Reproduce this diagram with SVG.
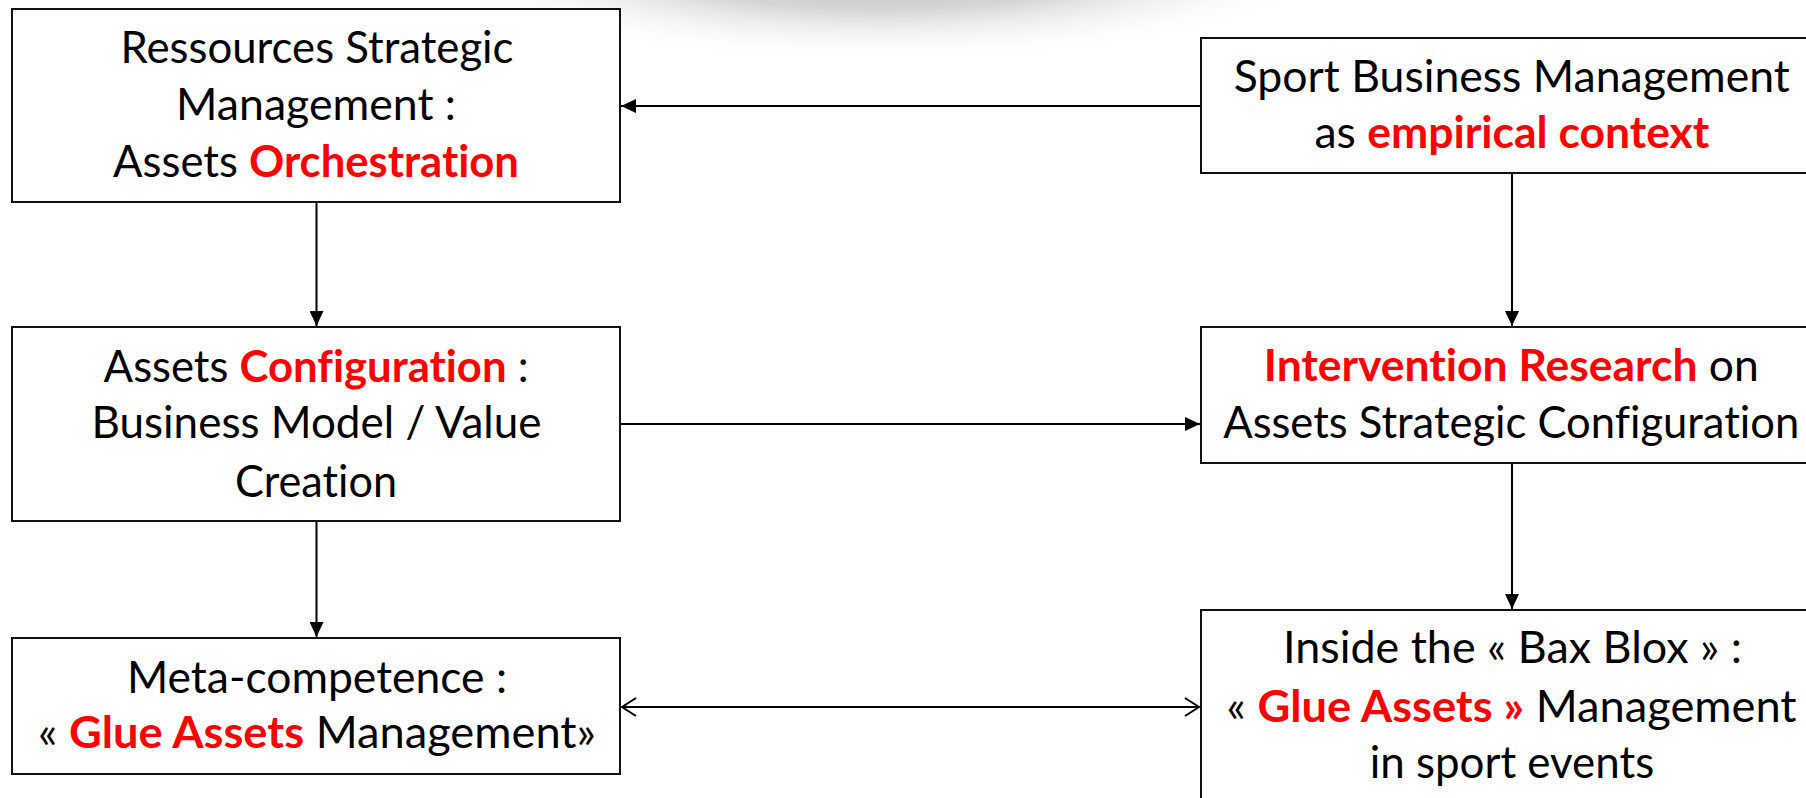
<svg xmlns="http://www.w3.org/2000/svg" width="1806" height="798" viewBox="0 0 1806 798">
<style>
.box{fill:#fff;stroke:#111;stroke-width:2}
.t{font-family:Lato,"Open Sans","Noto Sans",sans-serif;font-size:44px;fill:#000;font-variant-ligatures:none;font-feature-settings:"liga" 0}
.r{fill:#ff0000;font-weight:bold}
.c{stroke:#000;stroke-width:2;fill:none}
</style>
<defs>
<radialGradient id="sh" cx="0.5" cy="0.5" r="0.5">
<stop offset="0" stop-color="#9a9a9a" stop-opacity="1"/>
<stop offset="0.55" stop-color="#c8c8c8" stop-opacity="0.75"/>
<stop offset="1" stop-color="#ffffff" stop-opacity="0"/>
</radialGradient>
<marker id="af" markerUnits="userSpaceOnUse" markerWidth="16" markerHeight="14" refX="15" refY="7" orient="auto">
<path d="M0,0 L15,7 L0,14 z" fill="#000"/>
</marker>
<marker id="ao" markerUnits="userSpaceOnUse" markerWidth="18" markerHeight="22" refX="15" refY="10" orient="auto-start-reverse">
<path d="M1,1 L15,10 L1,19" fill="none" stroke="#000" stroke-width="2"/>
</marker>
</defs>
<rect width="1806" height="798" fill="#fff"/>
<ellipse cx="880" cy="-55" rx="490" ry="118" fill="url(#sh)"/>
<g id="connectors">
<line class="c" x1="1201" y1="106" x2="621" y2="106" marker-end="url(#af)"/>
<line class="c" x1="316.5" y1="202" x2="316.5" y2="326" marker-end="url(#af)"/>
<line class="c" x1="1512" y1="173" x2="1512" y2="326" marker-end="url(#af)"/>
<line class="c" x1="620" y1="424" x2="1200" y2="424" marker-end="url(#af)"/>
<line class="c" x1="316.5" y1="521" x2="316.5" y2="637" marker-end="url(#af)"/>
<line class="c" x1="1512" y1="463" x2="1512" y2="609" marker-end="url(#af)"/>
<line class="c" x1="622" y1="707" x2="1199" y2="707" marker-start="url(#ao)" marker-end="url(#ao)"/>
</g>
<g id="n1">
<rect class="box" x="12" y="9" width="608" height="193"/>
<text class="t" x="120.5" y="63" textLength="393" lengthAdjust="spacingAndGlyphs">Ressources Strategic</text>
<text class="t" x="176" y="120" textLength="280" lengthAdjust="spacingAndGlyphs">Management :</text>
<text class="t" x="113" y="177" textLength="406" lengthAdjust="spacingAndGlyphs">Assets <tspan class="r">Orchestration</tspan></text>
</g>
<g id="n2">
<rect class="box" x="1201" y="38" width="620" height="135"/>
<text class="t" x="1233.7" y="92" textLength="556" lengthAdjust="spacingAndGlyphs">Sport Business Management</text>
<text class="t" x="1314.4" y="148" textLength="395" lengthAdjust="spacingAndGlyphs">as <tspan class="r">empirical context</tspan></text>
</g>
<g id="n3">
<rect class="box" x="12" y="327" width="608" height="194"/>
<text class="t" x="103.6" y="382" textLength="425" lengthAdjust="spacingAndGlyphs">Assets <tspan class="r">Configuration</tspan> :</text>
<text class="t" x="91.5" y="438" textLength="450" lengthAdjust="spacingAndGlyphs">Business Model / Value</text>
<text class="t" x="235" y="497" textLength="162" lengthAdjust="spacingAndGlyphs">Creation</text>
</g>
<g id="n4">
<rect class="box" x="1201" y="327" width="620" height="136"/>
<text class="t" x="1263.8" y="381" textLength="495" lengthAdjust="spacingAndGlyphs"><tspan class="r">Intervention Research</tspan> on</text>
<text class="t" x="1223.2" y="438" textLength="576" lengthAdjust="spacingAndGlyphs">Assets Strategic Configuration</text>
</g>
<g id="n5">
<rect class="box" x="12" y="638" width="608" height="136"/>
<text class="t" x="127" y="693" textLength="380" lengthAdjust="spacingAndGlyphs">Meta-competence :</text>
<text class="t" x="38" y="748" textLength="558" lengthAdjust="spacingAndGlyphs">« <tspan class="r">Glue Assets</tspan> Management»</text>
</g>
<g id="n6">
<rect class="box" x="1201" y="610" width="620" height="200"/>
<text class="t" x="1283" y="663" textLength="459" lengthAdjust="spacingAndGlyphs">Inside the « Bax Blox » :</text>
<text class="t" x="1226.6" y="722" textLength="570" lengthAdjust="spacingAndGlyphs">« <tspan class="r">Glue Assets »</tspan> Management</text>
<text class="t" x="1369.7" y="778" textLength="284.5" lengthAdjust="spacingAndGlyphs">in sport events</text>
</g>
</svg>
